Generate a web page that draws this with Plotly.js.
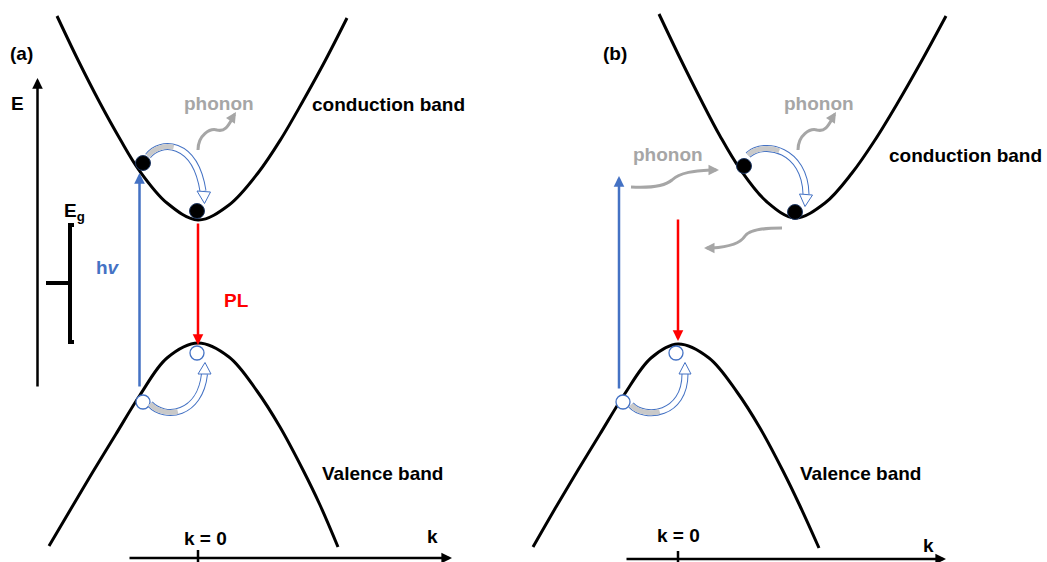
<!DOCTYPE html>
<html><head><meta charset="utf-8">
<script src="https://cdn.plot.ly/plotly-3.0.1.min.js"></script>
<style>html,body{margin:0;padding:0;background:#fff}#chart{width:1047px;height:562px}</style>
</head><body><div id="chart"></div>
<script>
// ---- Band curves (x = k, y = energy, screen px) ----
const cbA_x = [57, 78, 100, 120, 139, 167, 198, 229, 258, 281, 303, 325, 347];
const cbA_y = [16, 60, 103, 139, 170, 203, 220, 205, 173, 139, 101, 61, 18];
const vbA_x = [49, 72, 94, 116, 140, 167, 198, 229, 257, 280, 303, 320, 338];
const vbA_y = [546, 507, 470, 434, 395, 358, 343, 357, 391, 427, 470, 505, 547];
const cbB_x = [659, 680, 700, 720, 740, 767, 795, 825, 852, 875, 897, 921, 946];
const cbB_y = [14, 58, 98, 136, 169, 202, 218, 203, 173, 140, 104, 62, 16];
const vbB_x = [533, 556, 578, 600, 624, 651, 678, 709, 737, 760, 783, 800, 819];
const vbB_y = [547, 507, 470, 434, 395, 358, 344, 358, 392, 428, 471, 506, 548];

// carriers
const electrons_x = [143, 197, 744, 795];
const electrons_y = [163, 211, 166, 212];
const holes_x = [143, 197, 623, 676];
const holes_y = [402, 353, 402, 353];

// labels
const panelLabels = ['(a)', '(b)'];
const bandLabels = ['conduction band', 'Valence band'];
const kLabels = ['k = 0', 'k'];

const FONT = 'Liberation Sans, Arial, Helvetica, sans-serif';
const BLUE = '#4472C4', RED = '#FF0000', GRAY = '#A6A6A6', NAVY = '#1F3864';

function band(x, y) {
  return {x: x, y: y, type: 'scatter', mode: 'lines', hoverinfo: 'skip',
    line: {color: '#000', width: 3, shape: 'spline', smoothing: 1}};
}
const traces = [
  band(cbA_x, cbA_y), band(vbA_x, vbA_y), band(cbB_x, cbB_y), band(vbB_x, vbB_y),
  {x: electrons_x, y: electrons_y, type: 'scatter', mode: 'markers', hoverinfo: 'skip',
   marker: {size: 15, color: '#000', line: {color: NAVY, width: 1}}},
  {x: holes_x, y: holes_y, type: 'scatter', mode: 'markers', hoverinfo: 'skip',
   marker: {size: 14, color: '#fff', line: {color: BLUE, width: 1.3}}}
];

function arrow(x0, y0, x1, y1, color, width, size) {
  return {x: x1, y: y1, ax: x0, ay: y0, xref: 'x', yref: 'y', axref: 'x', ayref: 'y',
    showarrow: true, arrowhead: 2, arrowsize: size, arrowwidth: width,
    arrowcolor: color, text: '', standoff: 0, startstandoff: 0};
}
function label(text, x, y, color) {
  return {x: x, y: y, xref: 'x', yref: 'y', showarrow: false, text: '<b>' + text + '</b>',
    font: {family: FONT, size: 19, color: color || '#000'}, xanchor: 'center', yanchor: 'middle'};
}

const annotations = [
  label(panelLabels[0], 21, 53), label(panelLabels[1], 615, 53),
  label('E', 17, 103),
  label('E<sub>g</sub>', 74, 212),
  label('h<i>v</i>', 108, 267, BLUE),
  label('PL', 236, 300, RED),
  label('phonon', 219, 103, GRAY), label('phonon', 819, 103, GRAY), label('phonon', 668, 154, GRAY),
  label(bandLabels[0], 388, 104), label(bandLabels[0], 965, 155),
  label(bandLabels[1], 382, 473), label(bandLabels[1], 860, 473),
  label(kLabels[0], 205, 538), label(kLabels[1], 432, 536),
  label(kLabels[0], 678, 535), label(kLabels[1], 928, 545),
  // straight arrows
  arrow(37.5, 388, 37.5, 78, '#000', 2.5, 0.85),
  arrow(139.5, 388, 139.5, 173, BLUE, 2.5, 0.85),
  arrow(198, 222, 198, 345, RED, 2.5, 0.85),
  arrow(128, 558, 452, 558, '#000', 2.5, 0.85),
  arrow(619, 390, 619, 176, BLUE, 2.5, 0.85),
  arrow(678, 218, 678, 341, RED, 2.5, 0.85),
  arrow(625, 559, 946, 559, '#000', 2.5, 0.85),
  // phonon arrow heads
  arrow(231, 120, 236, 112, GRAY, 3, 0.7),
  arrow(831, 120, 836, 112, GRAY, 3, 0.7),
  arrow(710, 170, 719, 170, GRAY, 3, 0.7),
  arrow(713, 248, 704, 248, GRAY, 3, 0.7)
];

function line(path, color, width) {
  return {type: 'path', path: path, xref: 'x', yref: 'y', line: {color: color, width: width}};
}
function lerp(a, b, t) { return [a[0] + (b[0] - a[0]) * t, a[1] + (b[1] - a[1]) * t]; }
function cubicPath(p) { return 'M' + p[0] + ' C' + p[1] + ' ' + p[2] + ' ' + p[3]; }
function firstPart(p, t) {
  const p01 = lerp(p[0], p[1], t), p12 = lerp(p[1], p[2], t), p23 = lerp(p[2], p[3], t);
  const p012 = lerp(p01, p12, t), p123 = lerp(p12, p23, t), p0123 = lerp(p012, p123, t);
  return [p[0], p01, p012, p0123];
}
function hollowArrow(p, head) {
  return [
    line(cubicPath(p), BLUE, 7),
    line(cubicPath(p), '#fff', 5),
    line(cubicPath(firstPart(p, 0.45)), '#C9C9C9', 5),
    {type: 'path', path: head, xref: 'x', yref: 'y', fillcolor: '#fff', line: {color: BLUE, width: 1}}
  ];
}

const shapes = [].concat(
  // hollow scattering arrows
  hollowArrow([[148, 156], [160, 140], [195, 140], [203, 191]], 'M197,191 L210.5,192 L204.5,203.5 Z'),
  hollowArrow([[150, 404], [165, 420], [200, 415], [204.5, 374]], 'M198,374 L211,374 L205,362.5 Z'),
  hollowArrow([[748, 155], [765, 140], [805, 150], [806, 194]], 'M799.5,194 L812.5,195 L805,206.5 Z'),
  hollowArrow([[631, 405], [645, 420], [685, 415], [685, 374]], 'M679,374 L691,374 L685,362.5 Z'),
  [
    // phonon wiggles
    line('M198,150 C198,135 210,128 217,130 C225,132 228,126 232,119', GRAY, 3),
    line('M798,150 C798,135 810,128 817,130 C825,132 828,126 832,119', GRAY, 3),
    line('M631,187 C650,188 665,186 672,180 C680,172 695,171 711,170', GRAY, 3),
    line('M782,228 C765,228 750,229 745,236 C740,244 728,247 712,248', GRAY, 3),
    // Eg bracket
    line('M74,225 L70,225 L70,342 L74,342', '#000', 4),
    line('M46,283 L70,283', '#000', 4),
    // k = 0 ticks
    line('M198,550 L198,562', '#000', 2.5),
    line('M678,551 L678,562', '#000', 2.5)
  ]
);

const layout = {
  width: 1047, height: 562, margin: {l: 0, r: 0, t: 0, b: 0},
  paper_bgcolor: '#fff', plot_bgcolor: '#fff', showlegend: false,
  xaxis: {range: [0, 1047], visible: false, fixedrange: true},
  yaxis: {range: [562, 0], visible: false, fixedrange: true},
  annotations: annotations, shapes: shapes
};
Plotly.newPlot('chart', traces, layout, {staticPlot: true, displayModeBar: false});
</script></body></html>
